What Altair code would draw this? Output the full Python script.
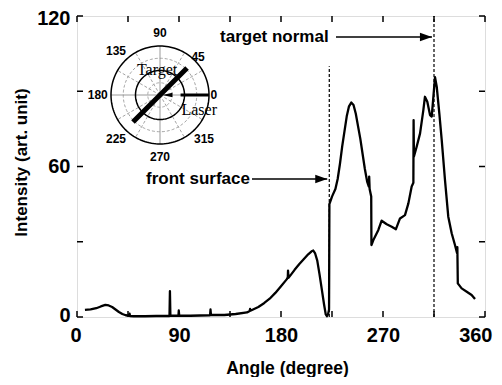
import altair as alt
import numpy as np
import pandas as pd

# ---------------- data ----------------
ANGLE = [7, 12, 17, 21, 25, 28, 31, 34, 37, 40, 43, 46, 46.4, 46.8, 50, 60, 70,
         81.6, 82, 82.4, 89.5, 89.8, 90.2, 100, 117.4, 117.8, 118.2, 130, 140, 150,
         152.4, 152.7, 153, 160, 165, 170, 175, 180, 185, 186, 186.2, 186.6, 189,
         192, 196, 200, 204, 207, 208.5, 210, 212, 214, 216, 218, 219.5, 220.5,
         221.5, 222.4, 222.7, 225, 228, 230, 232, 234, 236, 238, 240, 242, 244,
         246, 248, 250, 252, 254, 256, 257.5, 257.8, 258.2, 259.6, 259.8, 261.5,
         265.9, 268.8, 273.3, 277.7, 281.4, 285, 289.4, 292.4, 295.3, 296.8, 297.0,
         297.3, 299.7, 302.7, 305.6, 307, 309.1, 311.5, 313, 315.9, 317.4, 319.7,
         321.8, 324.7, 327.6, 330.6, 333.5, 335.3, 335.6, 336.0, 339.4, 343.9,
         348.2, 351.2]
INTENSITY = [2.8, 3.0, 3.5, 4.2, 4.8, 4.6, 4.0, 3.0, 2.0, 1.2, 0.7, 0.5, 1.3, 0.4,
             0.3, 0.3, 0.4, 0.4, 10.3, 0.5, 0.5, 2.6, 0.5, 0.5, 0.7, 3.0, 0.8, 0.8,
             1.2, 1.8, 2.4, 3.2, 2.5, 4.0, 5.5, 7.3, 9.6, 12.3, 15.0, 15.8, 18.5,
             15.6, 17.0, 18.8, 21.0, 23.0, 25.0, 26.2, 26.5, 25.5, 22.5, 17.0, 11.0,
             5.0, 1.0, 0.3, 1.0, 3.0, 45.0, 48.0, 51.0, 55.0, 61.0, 68.0, 74.0, 80.0,
             84.0, 85.5, 84.5, 81.0, 76.0, 71.0, 65.0, 59.0, 54.0, 52.0, 56.0, 51.0,
             48.0, 28.7, 30.7, 34.7, 38.4, 37.0, 36.0, 35.0, 39.3, 40.6, 45.3, 52.0,
             53.5, 78.5, 64.0, 67.9, 73.2, 82.5, 87.8, 85.8, 80.5, 79.9, 95.6, 91.8,
             81.2, 70.6, 54.6, 40.0, 33.4, 28.7, 25.5, 27.8, 13.4, 11.4, 10.1, 8.8, 7.2]

X_LABELS = [0, 90, 180, 270, 360]
X_TICKS = [0, 45, 90, 135, 180, 225, 270, 315, 360]
Y_LABELS = [0, 60, 120]
Y_TICKS = [0, 30, 60, 90, 120]

# dashed markers: front surface and target normal
MARK_ANGLE = [222.6, 315.0]
MARK_TOP = [100, 120]

# annotations: text, text anchor angle, arrow start, arrow tip, height
ANN_TEXT = ["front surface", "target normal"]
ANN_TEXT_X = [152.6, 126.2]
ANN_ALIGN = ["right", "left"]
ANN_ARROW_FROM = [154.4, 228.5]
ANN_ARROW_TO = [220.8, 313.2]
ANN_Y = [55.0, 111.6]

# polar inset
POLAR_LABEL_ANGLES = [0, 45, 90, 135, 180, 225, 270, 315]
RING_SOLID = [0.5, 1.0]
RING_DASHED = [0.25, 0.75]
SPOKE_SOLID = [0, 90, 180, 270]
SPOKE_DASHED = [30, 60, 120, 150, 210, 240, 300, 330]
TARGET_ANGLE = 45
LASER_ANGLE = 0

FONT = "Liberation Sans"
SERIF = "Liberation Serif"
W, H = 408, 301

# ---------------- main plot ----------------
XS = alt.Scale(domain=[0, 360], nice=False, zero=False)
YS = alt.Scale(domain=[0, 120], nice=False, zero=False)

df = pd.DataFrame({"angle": ANGLE, "intensity": INTENSITY, "i": range(len(ANGLE))})

curve = alt.Chart(df).mark_line(color="black", strokeWidth=2.3, strokeJoin="round").encode(
    x=alt.X("angle:Q", scale=XS,
            axis=alt.Axis(values=X_LABELS, title="Angle (degree)", grid=False, domain=False,
                          ticks=False, tickSize=0, labelPadding=8, labelFontSize=20,
                          labelFontWeight="bold", labelFont=FONT, labelColor="black",
                          labelFlush=True, labelFlushOffset=7,
                          titleFontSize=17.5, titleFontWeight="bold", titleFont=FONT,
                          titleColor="black", titleY=56, titleX=210,
                          titleBaseline="alphabetic", labelOverlap=False)),
    y=alt.Y("intensity:Q", scale=YS,
            axis=alt.Axis(values=Y_LABELS, title="Intensity (art. unit)", grid=False,
                          domain=False, ticks=False, tickSize=0, labelPadding=7,
                          labelFontSize=20, labelFontWeight="bold", labelFont=FONT,
                          labelColor="black", labelFlush=True, labelFlushOffset=8,
                          titleFontSize=17, titleFontWeight="bold",
                          titleFont=FONT, titleColor="black", titleX=-56, titleY=146,
                          titleAngle=270, titleAlign="center",
                          titleBaseline="middle", labelOverlap=False)),
    order="i:Q",
)

xt = pd.DataFrame({"t": X_TICKS})
yt = pd.DataFrame({"t": Y_TICKS})
tick_style = dict(color="black", strokeWidth=1.5)
ticks_bottom = alt.Chart(xt).mark_rule(**tick_style).encode(
    x=alt.X("t:Q", scale=XS, axis=None), y=alt.value(H), y2=alt.value(H - 6))
ticks_top = alt.Chart(xt).mark_rule(**tick_style).encode(
    x=alt.X("t:Q", scale=XS, axis=None), y=alt.value(0), y2=alt.value(6))
ticks_left = alt.Chart(yt).mark_rule(**tick_style).encode(
    y=alt.Y("t:Q", scale=YS, axis=None), x=alt.value(0), x2=alt.value(6))
ticks_right = alt.Chart(yt).mark_rule(**tick_style).encode(
    y=alt.Y("t:Q", scale=YS, axis=None), x=alt.value(W), x2=alt.value(W - 6))

mk = pd.DataFrame({"a": MARK_ANGLE, "lo": [0, 0], "hi": MARK_TOP})
markers = alt.Chart(mk).mark_rule(color="black", strokeWidth=1.2, strokeDash=[3, 2]).encode(
    x=alt.X("a:Q", scale=XS, axis=None),
    y=alt.Y("lo:Q", scale=YS, axis=None), y2="hi:Q")

ann = pd.DataFrame({"text": ANN_TEXT, "tx": ANN_TEXT_X, "align": ANN_ALIGN,
                    "a0": ANN_ARROW_FROM, "a1": ANN_ARROW_TO, "y": ANN_Y})
ann_text_layers = []
for al in ["right", "left"]:
    ann_text_layers.append(
        alt.Chart(ann).transform_filter(alt.datum.align == al).mark_text(
            align=al, baseline="middle", font=FONT, fontSize=17, fontWeight="bold",
            color="black").encode(
            x=alt.X("tx:Q", scale=XS, axis=None), y=alt.Y("y:Q", scale=YS, axis=None),
            text="text:N"))
ann_lines = alt.Chart(ann).mark_rule(color="black", strokeWidth=1.5).encode(
    x=alt.X("a0:Q", scale=XS, axis=None), x2="a1:Q",
    y=alt.Y("y:Q", scale=YS, axis=None))
ann_heads = alt.Chart(ann).mark_point(
    shape="M 0 0 L -2 -0.7 L -2 0.7 Z", size=144, filled=True, color="black",
    opacity=1, strokeWidth=0).encode(
    x=alt.X("a1:Q", scale=XS, axis=None), y=alt.Y("y:Q", scale=YS, axis=None))

# ---------------- polar inset ----------------
PX = alt.Scale(domain=[-1, 1], range=[34, 132], nice=False, zero=False)
PY = alt.Scale(domain=[-1, 1], range=[128, 30], nice=False, zero=False)

th = np.linspace(0, 2 * np.pi, 145)


def rings(radii):
    rows = []
    for k, r in enumerate(radii):
        for j, t in enumerate(th):
            rows.append({"ring": k, "j": j, "px": r * np.cos(t), "py": r * np.sin(t)})
    return pd.DataFrame(rows)


def spokes(angles, r=1.0):
    a = np.radians(angles)
    return pd.DataFrame({"x0": 0.0, "y0": 0.0, "x1": r * np.cos(a), "y1": r * np.sin(a)})


rings_dash = alt.Chart(rings(RING_DASHED)).mark_line(
    color="#9a9a9a", strokeWidth=0.9, strokeDash=[3, 2]).encode(
    x=alt.X("px:Q", scale=PX, axis=None), y=alt.Y("py:Q", scale=PY, axis=None),
    detail="ring:N", order="j:Q")
rings_solid = alt.Chart(rings(RING_SOLID)).mark_line(
    color="black", strokeWidth=1.5).encode(
    x=alt.X("px:Q", scale=PX, axis=None), y=alt.Y("py:Q", scale=PY, axis=None),
    detail="ring:N", order="j:Q")
spk_dash = alt.Chart(spokes(SPOKE_DASHED)).mark_rule(
    color="#9a9a9a", strokeWidth=0.9, strokeDash=[3, 2]).encode(
    x=alt.X("x0:Q", scale=PX, axis=None), y=alt.Y("y0:Q", scale=PY, axis=None),
    x2="x1:Q", y2="y1:Q")
spk_solid = alt.Chart(spokes(SPOKE_SOLID)).mark_rule(
    color="#9a9a9a", strokeWidth=1).encode(
    x=alt.X("x0:Q", scale=PX, axis=None), y=alt.Y("y0:Q", scale=PY, axis=None),
    x2="x1:Q", y2="y1:Q")

ta = np.radians(TARGET_ANGLE)
target_df = pd.DataFrame({"x0": [-0.78 * np.cos(ta)], "y0": [-0.78 * np.sin(ta)],
                          "x1": [0.78 * np.cos(ta)], "y1": [0.78 * np.sin(ta)]})
target_line = alt.Chart(target_df).mark_rule(color="black", strokeWidth=5).encode(
    x=alt.X("x0:Q", scale=PX, axis=None), y=alt.Y("y0:Q", scale=PY, axis=None),
    x2="x1:Q", y2="y1:Q")

la = np.radians(LASER_ANGLE)
laser_df = pd.DataFrame({"x0": [1.0 * np.cos(la)], "y0": [1.0 * np.sin(la)],
                         "x1": [0.42 * np.cos(la)], "y1": [0.42 * np.sin(la)],
                         "tx": [0.05 * np.cos(la)], "ty": [0.05 * np.sin(la)]})
laser_line = alt.Chart(laser_df).mark_rule(color="black", strokeWidth=3).encode(
    x=alt.X("x0:Q", scale=PX, axis=None), y=alt.Y("y0:Q", scale=PY, axis=None),
    x2="x1:Q", y2="y1:Q")
laser_head = alt.Chart(laser_df).mark_point(
    shape="M 0 0 L 2 -0.45 L 2 0.45 Z", size=100, filled=True, color="black",
    opacity=1, strokeWidth=0).encode(
    x=alt.X("tx:Q", scale=PX, axis=None), y=alt.Y("ty:Q", scale=PY, axis=None))

pa = np.radians(POLAR_LABEL_ANGLES)
prad = np.where(np.array(POLAR_LABEL_ANGLES) < 90, 1.1, 1.27)
plab = pd.DataFrame({"lab": [str(a) for a in POLAR_LABEL_ANGLES],
                     "px": prad * np.cos(pa), "py": prad * np.sin(pa)})
polar_labels = alt.Chart(plab).mark_text(
    font=FONT, fontSize=12, fontWeight="bold", color="black", baseline="middle",
    align="center").encode(
    x=alt.X("px:Q", scale=PX, axis=None), y=alt.Y("py:Q", scale=PY, axis=None),
    text="lab:N")

words = pd.DataFrame({"w": ["Target", "Laser"], "px": [-0.06, 0.8], "py": [0.51, -0.31]})
polar_words = alt.Chart(words).mark_text(
    font=SERIF, fontSize=16, color="black", baseline="middle", align="center").encode(
    x=alt.X("px:Q", scale=PX, axis=None), y=alt.Y("py:Q", scale=PY, axis=None),
    text="w:N")

chart = alt.layer(
    markers, curve, ticks_bottom, ticks_top, ticks_left, ticks_right,
    ann_lines, ann_heads, *ann_text_layers,
    rings_dash, spk_dash, spk_solid, rings_solid, polar_words, target_line,
    laser_line, laser_head, polar_labels,
).resolve_scale(x="independent", y="independent").properties(
    width=W, height=H,
    padding={"left": 69, "top": 8, "right": 9, "bottom": 60},
    autosize=alt.AutoSizeParams(type="none"),
).configure_view(stroke="black", strokeWidth=2).configure(background="white")

chart.save("out.html", embed_options={"renderer": "svg", "actions": False})
